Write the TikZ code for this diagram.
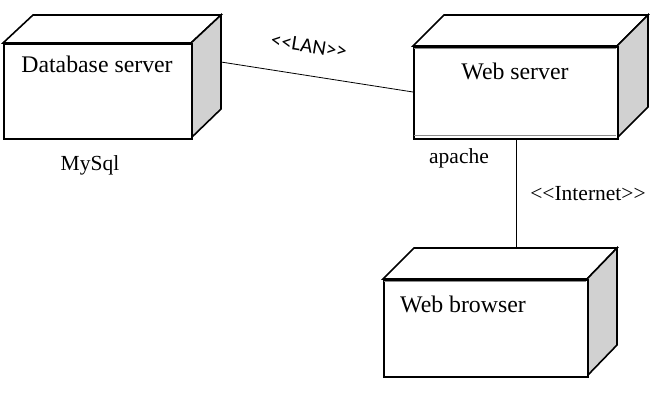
\documentclass[tikz,border=0pt]{standalone}
\usepackage{fontspec}
\setmainfont{Liberation Serif}
\newfontfamily\lanfont{Carlito}
\begin{document}
\begin{tikzpicture}[x=1pt,y=-1pt,
  outl/.style={draw=black, line width=1.6pt, line join=miter},
  topface/.style={outl, fill=white},
  sideface/.style={outl, fill=black!18},
  conn/.style={draw=black, line width=0.8pt},
  lbl/.style={font=\fontsize{21.5}{24}\selectfont, inner sep=0pt, anchor=base},
  boxlbl/.style={font=\fontsize{23.8}{26}\selectfont, inner sep=0pt, anchor=base},
  face/.style={outl, fill=white, inner sep=0pt, anchor=north west}]
\useasboundingbox (0,0) rectangle (652,408);
% ---------- Database server ----------
\draw[topface] (3,43) -- (33,15) -- (221,15) -- (191,43) -- cycle;
\draw[sideface] (191,43) -- (221,15) -- (221,109) -- (191,138) -- cycle;
\node[face, minimum width=188pt, minimum height=95pt] (db) at (3,43) {};
\coordinate (dbside) at (221,62);
% ---------- Web server ----------
\draw[topface] (413,46) -- (444,15) -- (648,15) -- (617,46) -- cycle;
\draw[sideface] (617,46) -- (648,15) -- (648,107) -- (617,138) -- cycle;
\node[face, minimum width=204pt, minimum height=92pt] (ws) at (413,46) {};
\draw[black!45, line width=1.2pt] (414,48.6) -- (616,48.6);
\draw[black!45, line width=1.2pt] (414,135.4) -- (616,135.4);
\coordinate (wsin) at (413,92);
\coordinate (wsbot) at (516,138);
% ---------- Web browser ----------
\draw[topface] (383,279) -- (414,248) -- (617,248) -- (587,279) -- cycle;
\draw[sideface] (587,279) -- (617,248) -- (617,345) -- (587,376) -- cycle;
\node[face, minimum width=204pt, minimum height=97pt] (wb) at (383,279) {};
\draw[black!45, line width=1.2pt] (384,281.6) -- (586,281.6);
\coordinate (wbtop) at (516,248);
% ---------- connectors ----------
\draw[conn] (dbside) -- (wsin);
\draw[conn] (wsbot) -- (wbtop);
% ---------- labels ----------
\node[boxlbl] (dbl) at (97,72) {Database server};
\node[lbl] (mysql) at (90,170) {MySql};
\node[boxlbl] (wsl) at (515,79) {Web server};
\node[lbl] (apache) at (459,163) {apache};
\node[lbl] (inet) at (588,200) {{<}{<}Internet{>}{>}};
\node[boxlbl] (wbl) at (463,312) {Web browser};
\node[font=\lanfont\fontsize{21}{24}\selectfont, inner sep=0pt, rotate=-9] (lan) at (309,46) {{<}{<}LAN{>}{>}};
\end{tikzpicture}
\end{document}
